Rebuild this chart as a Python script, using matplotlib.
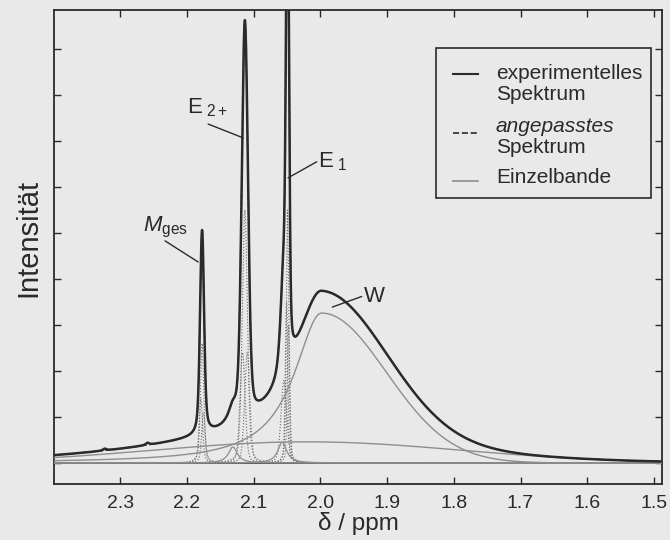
import matplotlib.pyplot as plt
import numpy as np
from matplotlib.patches import Rectangle

plt.rcParams['font.family'] = ['Liberation Sans', 'DejaVu Sans']
plt.rcParams['mathtext.fontset'] = 'custom'
plt.rcParams['mathtext.rm'] = 'Liberation Sans'
plt.rcParams['mathtext.it'] = 'Liberation Sans:italic'

# schmale Einzelbanden (M_ges, E_2+, E_1): Lage / ppm, Hoehe, halbe Halbwertsbreite, Lorentz-Anteil
narrow_pos = [2.1790, 2.1770, 2.1752,
              2.1165, 2.1130, 2.1095,
              2.0545, 2.0505, 2.0490, 2.0475]
narrow_height = [1.4, 2.6, 1.1,
                 2.4, 5.5, 2.4,
                 1.8, 3.5, 5.5, 3.0]
narrow_hwhm = [0.003, 0.003, 0.003,
               0.0045, 0.0045, 0.0045,
               0.005, 0.0022, 0.0022, 0.0022]
narrow_eta = [0.5, 0.5, 0.5,
              0.3, 0.3, 0.3,
              0.35, 0.35, 0.35, 0.35]

# kleine, breitere Banden am Fuss von E_2+ und E_1
small_pos = [2.131, 2.057]
small_height = [0.35, 0.45]
small_hwhm = [0.008, 0.008]

# Bande W (links Lorentz, rechts Gauss) und breiter Untergrund
w_pos, w_height = 1.998, 3.26
w_hwhm_left, w_hwhm_right = 0.05, 0.114
broad_pos, broad_height, broad_sigma = 2.02, 0.46, 0.23

# kleine Stoerungen nur im gemessenen Spektrum
bump_pos = [2.323, 2.259]
bump_height = [0.04, 0.05]
bump_hwhm = [0.003, 0.003]

xticks = [2.3, 2.2, 2.1, 2.0, 1.9, 1.8, 1.7, 1.6, 1.5]
yticks = list(range(10))

labels = [r'$\mathit{M}_{\mathrm{ges}}$', r'$\mathrm{E}_{\ \mathrm{2+}}$',
          r'$\mathrm{E}_{\ \mathrm{1}}$', 'W']
label_xy = [(2.2659, 5.04), (2.2004, 7.60), (2.0034, 6.43), (1.9352, 3.50)]
leader_from = [(2.2326, 4.83), (2.168, 7.37), (2.0053, 6.55), (1.938, 3.62)]
leader_to = [(2.183, 4.37), (2.1157, 7.07), (2.0483, 6.20), (1.982, 3.39)]


def lorentz(x, x0, h, w):
    return h / (1.0 + ((x - x0) / w) ** 2)


def gauss(x, x0, h, w):
    return h * np.exp(-np.log(2) * ((x - x0) / w) ** 2)


def pvoigt(x, x0, h, w, eta):
    return eta * lorentz(x, x0, h, w) + (1 - eta) * gauss(x, x0, h, w)


x = np.linspace(2.399, 1.488, 9000)

bands_narrow = [pvoigt(x, p, h, w, e)
                for p, h, w, e in zip(narrow_pos, narrow_height, narrow_hwhm, narrow_eta)]
bands_small = [lorentz(x, p, h, w) for p, h, w in zip(small_pos, small_height, small_hwhm)]
band_w = np.where(x >= w_pos,
                  lorentz(x, w_pos, w_height, w_hwhm_left),
                  gauss(x, w_pos, w_height, w_hwhm_right))
band_broad = broad_height * np.exp(-0.5 * ((x - broad_pos) / broad_sigma) ** 2)

fit = band_w + band_broad + sum(bands_narrow) + sum(bands_small)
exp_spec = fit + sum(lorentz(x, p, h, w) for p, h, w in zip(bump_pos, bump_height, bump_hwhm))

bg = '#e9e9e9'
dark = '#2a2a2a'
grey = '#8e8e8e'

fig = plt.figure(figsize=(6.7, 5.4), dpi=100, facecolor=bg)
ax = fig.add_axes([54 / 670, 1 - 484 / 540, 608 / 670, 474 / 540], facecolor=bg)

ax.axhline(0, color=dark, lw=1.1, zorder=2)
for b in bands_narrow:
    ax.plot(x, b, color='#6a6a6a', lw=0.8, ls=':', zorder=3)
for b in bands_small:
    ax.plot(x, b, color=grey, lw=0.9, zorder=3)
ax.plot(x, band_w, color=grey, lw=1.0, zorder=3)
ax.plot(x, band_broad, color=grey, lw=1.0, zorder=3)
ax.plot(x, fit, color=dark, lw=1.0, ls='--', zorder=4)
ax.plot(x, exp_spec, color=dark, lw=1.8, zorder=4)

for txt, (tx, ty), p0, p1 in zip(labels, label_xy, leader_from, leader_to):
    ax.text(tx, ty, txt, fontsize=16, color=dark, ha='left', va='baseline', zorder=6)
    ax.annotate('', xy=p1, xytext=p0,
                arrowprops=dict(arrowstyle='-', color=dark, lw=1.0, shrinkA=0, shrinkB=0))

ax.set_xlim(2.399, 1.488)
ax.set_ylim(-0.457, 9.85)
ax.set_xticks(xticks)
ax.set_xticklabels([f'{t:.1f}' for t in xticks])
ax.set_yticks(yticks)
ax.tick_params(direction='in', top=True, right=True, length=5, width=1,
               colors=dark, labelsize=14, pad=8, labelleft=False)
for s in ax.spines.values():
    s.set_color(dark)
    s.set_linewidth(1.3)
ax.set_xlabel('δ / ppm', fontsize=17.5, labelpad=0, color=dark)
fig.text(28 / 670, 1 - 238 / 540, 'Intensität', rotation=90, fontsize=21,
         ha='center', va='center', color=dark)

# Legende
ax.add_patch(Rectangle((0.628, 0.603), 0.354, 0.317, transform=ax.transAxes,
                       facecolor=bg, edgecolor=dark, lw=1.2, zorder=7))
hx = [0.656, 0.697]
ax.plot(hx, [0.865, 0.865], transform=ax.transAxes, color=dark, lw=1.5, zorder=8)
ax.plot(hx, [0.7405, 0.7405], transform=ax.transAxes, color=dark, lw=1.2, ls='--', zorder=8)
ax.plot(hx, [0.639, 0.639], transform=ax.transAxes, color=grey, lw=1.2, zorder=8)
leg_rows = [('experimentelles', 0.865, 'normal'), ('Spektrum', 0.821, 'normal'),
            ('angepasstes', 0.755, 'italic'), ('Spektrum', 0.709, 'normal'),
            ('Einzelbande', 0.646, 'normal')]
for t, yy, st in leg_rows:
    ax.text(0.727, yy, t, transform=ax.transAxes, fontsize=15, style=st,
            color=dark, ha='left', va='center', zorder=8)

fig.savefig('out.png', dpi=100, facecolor=bg)
